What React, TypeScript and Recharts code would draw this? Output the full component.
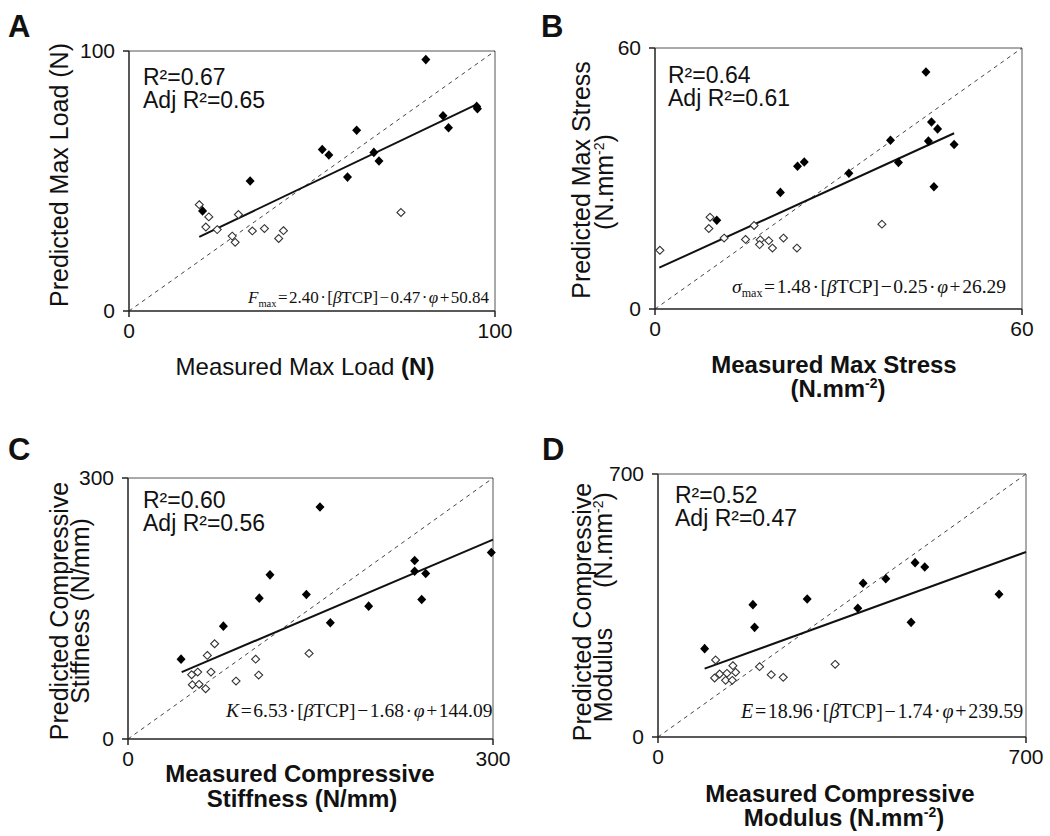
import React from 'react'
import { ScatterChart, Scatter, XAxis, YAxis, ReferenceLine } from 'recharts'

type Pt = [number, number]

// [measured, predicted]
const loadHigh: Pt[] = [
  [81.1, 96.7], [20.1, 38.5], [33.1, 50.0], [52.8, 62.1], [54.6, 60.0], [62.2, 69.5], [59.7, 51.5],
  [66.9, 61.0], [68.3, 57.7], [85.8, 75.1], [87.3, 70.5], [95.0, 78.7], [95.2, 77.8],
]
const loadLow: Pt[] = [
  [19.2, 40.9], [21.8, 36.2], [21.0, 32.3], [24.1, 31.3], [29.9, 37.1], [28.2, 28.8], [29.0, 26.4],
  [33.7, 30.8], [37.0, 31.7], [40.9, 27.9], [42.2, 30.9], [74.3, 37.9],
]
const loadFit: Pt[] = [[19.2, 28.5], [95.0, 79.5]]

const stressHigh: Pt[] = [
  [44.3, 54.5], [10.1, 20.4], [20.5, 26.8], [23.3, 32.8], [24.4, 33.8], [31.7, 31.2], [38.5, 38.8],
  [39.8, 33.7], [44.7, 38.6], [45.2, 43.0], [46.2, 41.4], [45.6, 28.1], [48.9, 37.8],
]
const stressLow: Pt[] = [
  [0.8, 13.5], [8.8, 18.5], [9.0, 21.1], [11.3, 16.3], [14.8, 16.0], [16.2, 19.2], [17.2, 15.9],
  [17.1, 14.8], [18.6, 15.7], [19.2, 14.0], [21.0, 16.3], [23.2, 14.0], [37.1, 19.5],
]
const stressFit: Pt[] = [[0.7, 9.5], [48.9, 40.4]]

const stiffHigh: Pt[] = [
  [157.8, 266.7], [43.6, 91.8], [78.4, 129.7], [107.9, 161.9], [116.7, 188.7], [146.6, 166.1],
  [166.3, 133.6], [197.8, 152.7], [235.6, 205.1], [235.6, 192.9], [244.7, 190.2], [241.4, 160.4],
  [298.6, 214.3],
]
const stiffLow: Pt[] = [
  [71.2, 109.5], [65.2, 96.1], [52.3, 73.9], [57.3, 76.9], [68.2, 76.9], [52.9, 62.4], [58.4, 62.8],
  [63.8, 57.8], [88.8, 66.6], [104.9, 91.8], [107.4, 73.5], [148.8, 98.4],
]
const stiffFit: Pt[] = [[44.1, 76.9], [300, 229.2]]

const modHigh: Pt[] = [
  [88.7, 235.1], [180.5, 352.3], [183.7, 291.9], [283.8, 367.3], [380.1, 342.5], [390.2, 409.1],
  [433.3, 421.5], [481.4, 305.2], [489.0, 464.1], [507.4, 452.5], [648.7, 379.8],
]
const modLow: Pt[] = [
  [109.6, 205.0], [107.7, 157.1], [117.2, 167.7], [131.1, 169.5], [142.5, 189.9], [147.6, 172.1],
  [128.6, 150.8], [141.3, 150.8], [193.2, 187.2], [215.4, 165.9], [238.2, 158.8], [337.0, 193.4],
]
const modFit: Pt[] = [[88.7, 181.9], [700, 492.5]]

const SANS = '"Liberation Sans", Arial, sans-serif'
const SERIF = '"Liberation Serif", "Times New Roman", serif'
const HS = '\u200A'

const FilledDiamond = (p: any) => (
  <path d={`M${p.cx},${p.cy - 4.8}L${p.cx + 4.5},${p.cy}L${p.cx},${p.cy + 4.8}L${p.cx - 4.5},${p.cy}Z`} fill="#000" />
)
const OpenDiamond = (p: any) => (
  <path d={`M${p.cx},${p.cy - 3.9}L${p.cx + 4},${p.cy}L${p.cx},${p.cy + 3.9}L${p.cx - 4},${p.cy}Z`} fill="#fff" stroke="#333" strokeWidth={1.1} />
)

const toData = (pts: Pt[]) => pts.map(([x, y]) => ({ x, y }))

function Panel({ left, top, plotW, plotH, max, high, low, fit }: {
  left: number; top: number; plotW: number; plotH: number; max: number; high: Pt[]; low: Pt[]; fit: Pt[]
}) {
  const YW = 70, MT = 12, MR = 30, XH = 40
  const tick = { fontSize: 21, fill: '#111', fontFamily: SANS }
  return (
    <div style={{ position: 'absolute', left: left - YW, top: top - MT }}>
      <ScatterChart width={YW + plotW + MR} height={MT + plotH + XH} margin={{ top: MT, right: MR, left: 0, bottom: 0 }}>
        <XAxis type="number" dataKey="x" domain={[0, max]} ticks={[0, max]} interval={0} height={XH}
          tick={tick} tickSize={6} tickMargin={6} axisLine={{ stroke: '#222', strokeWidth: 1.5 }} tickLine={{ stroke: '#222', strokeWidth: 1.5 }} />
        <YAxis type="number" dataKey="y" domain={[0, max]} ticks={[0, max]} interval={0} width={YW}
          tick={tick} tickSize={6} tickMargin={8} axisLine={{ stroke: '#222', strokeWidth: 1.5 }} tickLine={{ stroke: '#222', strokeWidth: 1.5 }} />
        <ReferenceLine x={max} stroke="#555" strokeWidth={1} />
        <ReferenceLine y={max} stroke="#555" strokeWidth={1} />
        <ReferenceLine segment={[{ x: 0, y: 0 }, { x: max, y: max }]} stroke="#444" strokeWidth={1} strokeDasharray="4 4" />
        <ReferenceLine segment={[{ x: fit[0][0], y: fit[0][1] }, { x: fit[1][0], y: fit[1][1] }]} stroke="#111" strokeWidth={2} />
        <Scatter data={toData(low)} shape={OpenDiamond} isAnimationActive={false} />
        <Scatter data={toData(high)} shape={FilledDiamond} isAnimationActive={false} />
      </ScatterChart>
    </div>
  )
}

function Eq({ x, y, fs, lead, sub, a, b, c }: { x: number; y: number; fs: number; lead: string; sub?: string; a: string; b: string; c: string }) {
  return (
    <text x={x} y={y} fontFamily={SERIF} fontSize={fs} fill="#111">
      <tspan fontStyle="italic">{lead}</tspan>
      {sub ? <tspan fontSize={fs * 0.62} dy={4}>{sub}</tspan> : null}
      <tspan dy={sub ? -4 : 0}>{`${HS}=${HS}${a}${HS}·${HS}[`}</tspan>
      <tspan fontStyle="italic">β</tspan>
      <tspan>{`TCP]${HS}−${HS}${b}${HS}·${HS}`}</tspan>
      <tspan fontStyle="italic">φ</tspan>
      <tspan>{`${HS}+${HS}${c}`}</tspan>
    </text>
  )
}

const Sup = ({ t }: { t: string }) => (
  <>
    <tspan fontSize={14} dy={-9}>{t}</tspan>
    <tspan dy={9}>)</tspan>
  </>
)

export default function App() {
  return (
    <div style={{ position: 'absolute', left: 0, top: 0, width: 1050, height: 836, background: '#fff', overflow: 'hidden' }}>
      <Panel left={129} top={50.7} plotW={366} plotH={260} max={100} high={loadHigh} low={loadLow} fit={loadFit} />
      <Panel left={655} top={48.3} plotW={367} plotH={261} max={60} high={stressHigh} low={stressLow} fit={stressFit} />
      <Panel left={128} top={477.7} plotW={365} plotH={261} max={300} high={stiffHigh} low={stiffLow} fit={stiffFit} />
      <Panel left={658.3} top={474.3} plotW={368} plotH={263} max={700} high={modHigh} low={modLow} fit={modFit} />
      <svg width={1050} height={836} style={{ position: 'absolute', left: 0, top: 0, pointerEvents: 'none' }}>
        <g fontFamily={SANS} fill="#111">
          <text x={8} y={37} fontSize={31} fontWeight="bold">A</text>
          <text x={541} y={37} fontSize={31} fontWeight="bold">B</text>
          <text x={8} y={460} fontSize={31} fontWeight="bold">C</text>
          <text x={542} y={460} fontSize={31} fontWeight="bold">D</text>

          <text x={143} y={85} fontSize={23}>R²=0.67</text>
          <text x={143} y={108} fontSize={23}>Adj R²=0.65</text>
          <text x={668} y={83} fontSize={23}>R²=0.64</text>
          <text x={668} y={106} fontSize={23}>Adj R²=0.61</text>
          <text x={143} y={508} fontSize={23}>R²=0.60</text>
          <text x={143} y={531} fontSize={23}>Adj R²=0.56</text>
          <text x={675} y={503} fontSize={23}>R²=0.52</text>
          <text x={675} y={526} fontSize={23}>Adj R²=0.47</text>

          <text x={68} y={175} fontSize={25} textAnchor="middle" transform="rotate(-90 68 175)">Predicted Max Load (N)</text>
          <text x={305} y={375} fontSize={24} textAnchor="middle">Measured Max Load <tspan fontWeight="bold">(N)</tspan></text>

          <text x={590} y={180} fontSize={25} textAnchor="middle" transform="rotate(-90 590 180)">Predicted Max Stress</text>
          <text x={613} y={182} fontSize={25} textAnchor="middle" transform="rotate(-90 613 182)">(N.mm<Sup t="-2" /></text>
          <text x={834} y={373} fontSize={24} fontWeight="bold" textAnchor="middle">Measured Max Stress</text>
          <text x={838} y={397} fontSize={24} fontWeight="bold" textAnchor="middle">(N.mm<Sup t="-2" /></text>

          <text x={68} y={611} fontSize={25} textAnchor="middle" transform="rotate(-90 68 611)">Predicted Compressive</text>
          <text x={89} y={611} fontSize={25} textAnchor="middle" transform="rotate(-90 89 611)">Stiffness (N/mm)</text>
          <text x={300} y={782} fontSize={24} fontWeight="bold" textAnchor="middle">Measured Compressive</text>
          <text x={302} y={807} fontSize={24} fontWeight="bold" textAnchor="middle">Stiffness (N/mm)</text>

          <text x={591} y={612} fontSize={25} textAnchor="middle" transform="rotate(-90 591 612)">Predicted Compressive</text>
          <text x={612} y={675} fontSize={25} textAnchor="middle" transform="rotate(-90 612 675)">Modulus</text>
          <text x={612} y={540} fontSize={25} textAnchor="middle" transform="rotate(-90 612 540)">(N.mm<Sup t="-2" /></text>
          <text x={840} y={802} fontSize={24} fontWeight="bold" textAnchor="middle">Measured Compressive</text>
          <text x={844} y={826} fontSize={24} fontWeight="bold" textAnchor="middle">Modulus (N.mm<Sup t="-2" /></text>
        </g>
        <Eq x={248} y={303} fs={17} lead="F" sub="max" a="2.40" b="0.47" c="50.84" />
        <Eq x={732} y={293} fs={19.5} lead="σ" sub="max" a="1.48" b="0.25" c="26.29" />
        <Eq x={226} y={717} fs={19.5} lead="K" a="6.53" b="1.68" c="144.09" />
        <Eq x={741} y={718} fs={20} lead="E" a="18.96" b="1.74" c="239.59" />
      </svg>
    </div>
  )
}
